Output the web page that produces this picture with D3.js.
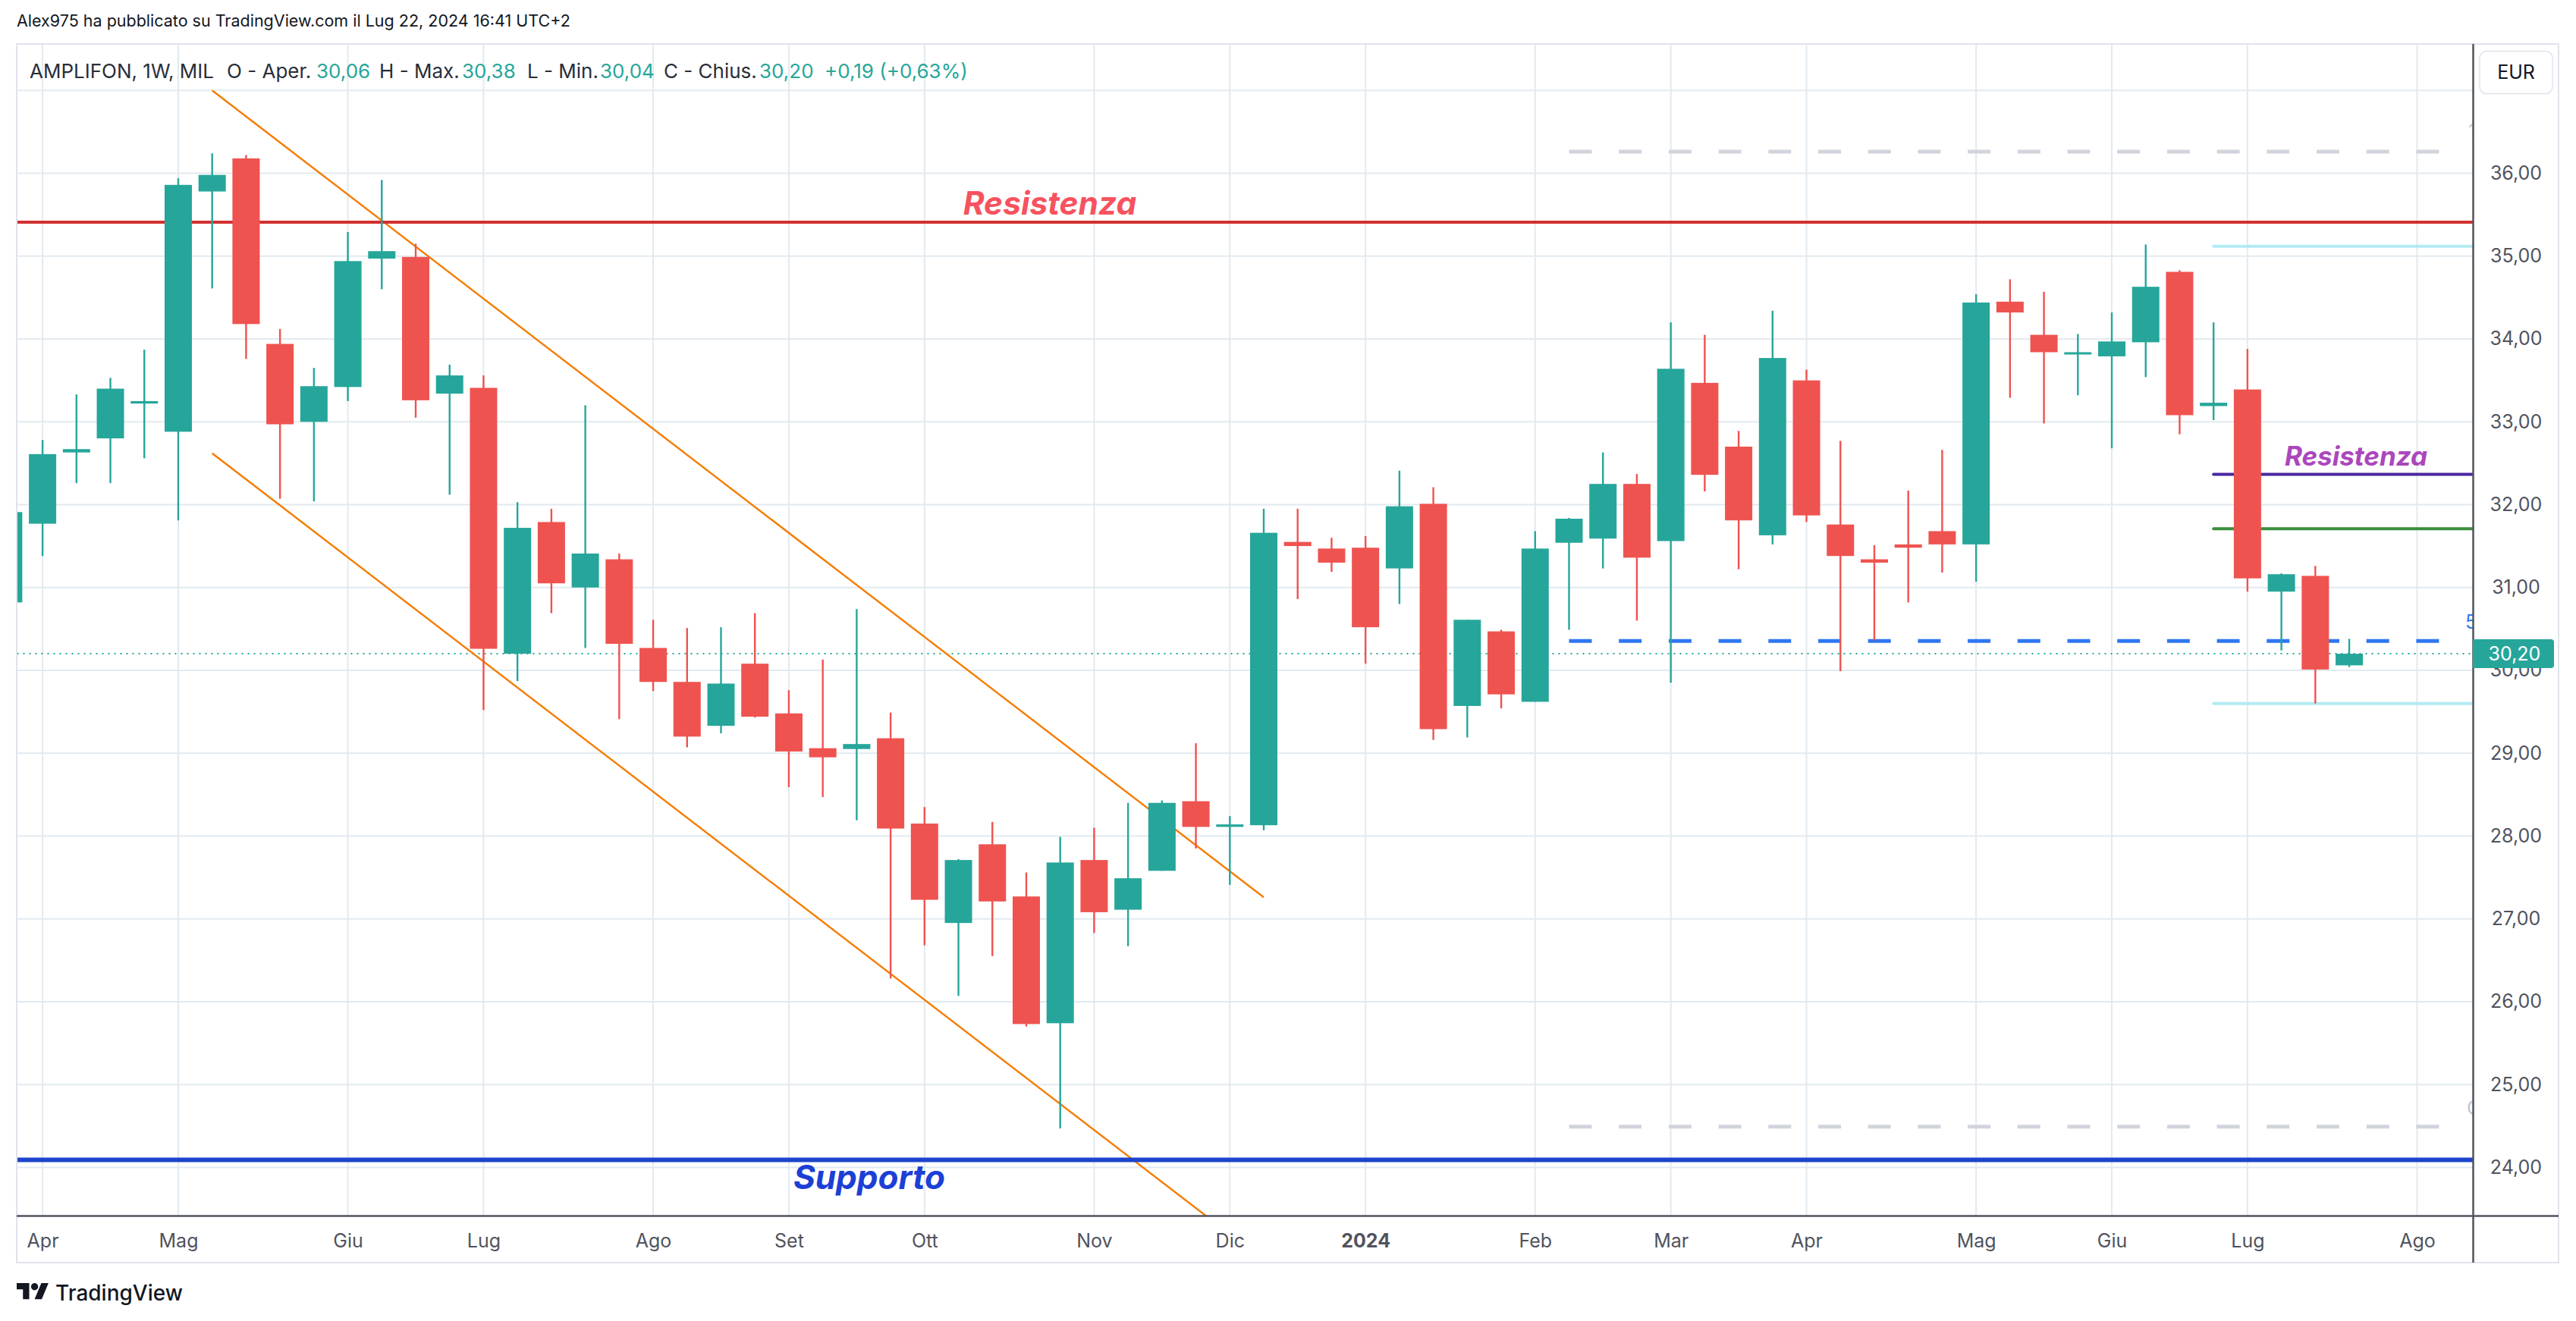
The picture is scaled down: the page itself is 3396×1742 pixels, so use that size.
<!DOCTYPE html>
<html>
<head>
<meta charset="utf-8">
<script src="https://cdn.jsdelivr.net/npm/d3@7"></script>
<style>
  html, body { margin: 0; padding: 0; background: #fff; }
  svg { display: block; font-family: Inter, "Noto Sans", sans-serif; }
</style>
</head>
<body>
<script>
const larg = 3396, alt = 1742;
const sx = 22.5, dx = 3260, top_ = 58.5, baixo = 1603.5;

// candele settimanali (lunedì) dal 27 mar 2023 al 22 lug 2024
const apertura = [30.82,31.77,32.63,32.80,33.22,32.88,35.78,36.18,33.94,33.00,33.42,34.97,34.99,33.34,33.41,30.20,31.79,31.00,31.34,30.27,
  29.86,29.33,30.08,29.48,29.06,29.05,29.18,28.15,26.95,27.90,27.27,25.74,27.71,27.11,27.58,28.42,28.11,28.13,31.55,31.47,
  31.48,31.23,32.01,29.57,30.47,29.62,31.54,31.59,32.25,31.56,33.47,32.70,31.63,33.50,31.76,31.34,31.52,31.68,31.52,34.45,
  34.05,33.82,33.79,33.96,34.81,33.19,33.39,30.95,31.14,30.06];
const massimo = [31.95,32.78,33.33,33.53,33.87,35.94,36.24,36.22,34.12,33.65,35.29,35.92,35.15,33.69,33.56,32.03,31.95,33.20,31.41,30.61,
  30.51,30.52,30.69,29.76,30.13,30.74,29.49,28.35,27.72,28.17,27.56,27.99,28.10,28.40,28.43,29.12,28.24,31.95,31.95,31.60,
  31.62,32.41,32.21,30.61,30.49,31.68,31.84,32.63,32.37,34.20,34.05,32.89,34.34,33.63,32.77,31.51,32.17,32.66,34.54,34.72,
  34.57,34.06,34.32,35.14,34.83,34.20,33.88,31.17,31.26,30.38];
const minimo = [30.70,31.38,32.26,32.26,32.56,31.81,34.61,33.76,32.07,32.04,33.25,34.60,33.05,32.12,29.52,29.87,30.69,30.27,29.41,29.75,
  29.07,29.24,29.43,28.59,28.47,28.19,26.28,26.68,26.07,26.55,25.70,24.47,26.83,26.67,27.58,27.85,27.41,28.07,30.86,31.19,
  30.08,30.80,29.16,29.19,29.54,29.62,30.49,31.23,30.60,29.85,32.16,31.22,31.52,31.79,29.99,30.36,30.82,31.18,31.07,33.29,
  32.98,33.32,32.68,33.54,32.85,33.02,30.95,30.24,29.60,30.04];
const chiusura = [31.91,32.61,32.67,33.40,33.25,35.86,35.98,34.18,32.97,33.43,34.94,35.06,33.26,33.56,30.26,31.72,31.05,31.41,30.32,29.86,
  29.20,29.84,29.44,29.02,28.95,29.11,28.09,27.23,27.71,27.21,25.73,27.68,27.08,27.49,28.40,28.11,28.14,31.66,31.50,31.30,
  30.52,31.98,29.29,30.61,29.71,31.47,31.83,32.25,31.36,33.64,32.36,31.81,33.77,31.87,31.38,31.30,31.48,31.52,34.44,34.32,
  33.84,33.84,33.97,34.63,33.08,33.23,31.11,31.16,30.01,30.20];

const meseDate = ["2023-04-03","2023-05-01","2023-06-05","2023-07-03","2023-08-07","2023-09-04","2023-10-02","2023-11-06","2023-12-04",
  "2024-01-01","2024-02-05","2024-03-04","2024-04-01","2024-05-06","2024-06-03","2024-07-01","2024-08-05"];
const meseEtichette = ["Apr","Mag","Giu","Lug","Ago","Set","Ott","Nov","Dic","2024","Feb","Mar","Apr","Mag","Giu","Lug","Ago"];
const prezzi = [24,25,26,27,28,29,30,31,32,33,34,35,36];
const griglia = [24,25,26,27,28,29,30,31,32,33,34,35,36,37];

// livelli disegnati
const resistenza = 35.41, supporto = 24.09;
const canaleAlto = [["2023-05-08", 37.00], ["2023-12-11", 27.26]];
const canaleBasso = [["2023-05-08", 32.62], ["2023-12-11", 22.88]];
const tratteggiGrigi = [36.26, 24.49];
const tratteggioBlu = 30.355;
const livelliRecenti = [
  { p: 35.12, c: "#b2ebf2", w: 4 },
  { p: 29.60, c: "#b2ebf2", w: 4 },
  { p: 32.365, c: "#4a28a0", w: 4 },
  { p: 31.71, c: "#388e3c", w: 4 }
];
const ultimo = 30.20;

const settimane = d3.utcMonday.range(new Date(Date.UTC(2023, 2, 27)), new Date(Date.UTC(2024, 6, 23)));
const dati = settimane.map((d, i) => ({ d, o: apertura[i], h: massimo[i], l: minimo[i], c: chiusura[i] }));

const data = s => new Date(s + "T00:00:00Z");
const x = d3.scaleUtc().domain([data("2023-04-03"), data("2024-07-01")]).range([56.1, 2962.9]);
const y = d3.scaleLinear().domain([24, 36]).range([1539.4, 228.5]);
const it = d3.formatLocale({ decimal: ",", thousands: ".", grouping: [3], currency: ["€", ""] }).format(".2f");

const svg = d3.select("body").append("svg").attr("width", larg).attr("height", alt);
svg.append("rect").attr("width", larg).attr("height", alt).attr("fill", "#fff");

svg.append("defs").append("clipPath").attr("id", "area")
  .append("rect").attr("x", sx).attr("y", top_).attr("width", dx - sx).attr("height", baixo - top_);

// griglia
const g = svg.append("g");
g.selectAll(".gv").data(meseDate).join("line")
  .attr("x1", d => x(data(d))).attr("x2", d => x(data(d)))
  .attr("y1", top_).attr("y2", baixo)
  .attr("stroke", "#e2eaf0").attr("stroke-width", 2);
g.selectAll(".gh").data(griglia).join("line")
  .attr("x1", sx).attr("x2", dx)
  .attr("y1", d => y(d)).attr("y2", d => y(d))
  .attr("stroke", "#e2eaf0").attr("stroke-width", 2);

const piano = svg.append("g").attr("clip-path", "url(#area)");

// linea prezzo corrente
piano.append("line").attr("x1", sx).attr("x2", dx).attr("y1", y(ultimo)).attr("y2", y(ultimo))
  .attr("stroke", "#26a69a").attr("stroke-width", 2).attr("stroke-dasharray", "2,6");

// tratteggi grigi e blu
const xInizio = x(data("2024-02-12")), xFine = x(data("2024-08-12"));
piano.selectAll(".grigio").data(tratteggiGrigi).join("line")
  .attr("x1", xInizio).attr("x2", xFine).attr("y1", d => y(d)).attr("y2", d => y(d))
  .attr("stroke", "#d1d4dc").attr("stroke-width", 5).attr("stroke-dasharray", "30,35.7");
piano.append("line")
  .attr("x1", xInizio).attr("x2", xFine).attr("y1", y(tratteggioBlu)).attr("y2", y(tratteggioBlu))
  .attr("stroke", "#2f77f2").attr("stroke-width", 5).attr("stroke-dasharray", "30,35.7");

// etichette tagliate al bordo
piano.append("text").attr("x", 3250).attr("y", y(tratteggioBlu) - 16).text("5")
  .attr("fill", "#2f77f2").attr("font-size", 25);
piano.append("text").attr("x", 3252).attr("y", y(tratteggiGrigi[1]) - 16).text("C")
  .attr("fill", "#c3c6ce").attr("font-size", 25);
piano.append("text").attr("x", 3254).attr("y", y(tratteggiGrigi[0]) - 18).text("1")
  .attr("fill", "#c3c6ce").attr("font-size", 25);

// canale
[canaleAlto, canaleBasso].forEach(l => {
  piano.append("line")
    .attr("x1", x(data(l[0][0]))).attr("y1", y(l[0][1]))
    .attr("x2", x(data(l[1][0]))).attr("y2", y(l[1][1]))
    .attr("stroke", "#f57c00").attr("stroke-width", 2.4);
});

// livelli recenti
const xRecente = x(data("2024-06-24"));
piano.selectAll(".liv").data(livelliRecenti).join("line")
  .attr("x1", xRecente).attr("x2", dx + 5).attr("y1", d => y(d.p)).attr("y2", d => y(d.p))
  .attr("stroke", d => d.c).attr("stroke-width", d => d.w).attr("stroke-linecap", "round");

// resistenza e supporto
piano.append("line").attr("x1", sx).attr("x2", dx).attr("y1", y(resistenza)).attr("y2", y(resistenza))
  .attr("stroke", "#d32f2f").attr("stroke-width", 4);
piano.append("line").attr("x1", sx).attr("x2", dx).attr("y1", y(supporto)).attr("y2", y(supporto))
  .attr("stroke", "#1c44cc").attr("stroke-width", 6);

// candele
const larghezza = 36;
const cand = piano.selectAll(".c").data(dati).join("g")
  .attr("fill", d => d.c >= d.o ? "#26a69a" : "#ef5350");
cand.append("rect")
  .attr("x", d => x(d.d) - 1.2).attr("width", 2.4)
  .attr("y", d => y(d.h)).attr("height", d => y(d.l) - y(d.h));
cand.append("rect")
  .attr("x", d => x(d.d) - larghezza / 2).attr("width", larghezza)
  .attr("y", d => y(Math.max(d.o, d.c)))
  .attr("height", d => Math.max(3, Math.abs(y(d.o) - y(d.c))));

// testi dei livelli
const etich = (t, px, py, col, fs) => svg.append("text").attr("x", px).attr("y", py).text(t)
  .attr("fill", col).attr("font-size", fs).attr("font-weight", 700).attr("font-style", "italic")
  .attr("text-anchor", "middle");
etich("Resistenza", 1384, y(resistenza) - 10, "#f7525f", 42.5);
etich("Supporto", 1146, y(supporto) + 38, "#1c3fd6", 44);
etich("Resistenza", 3106, y(livelliRecenti[2].p) - 12, "#ab47bc", 35);

// cornice e assi
svg.append("rect").attr("x", 22).attr("y", 58).attr("width", 3351).attr("height", 1607)
  .attr("fill", "none").attr("stroke", "#e0e3eb").attr("stroke-width", 2);
svg.append("line").attr("x1", dx + 0.5).attr("x2", dx + 0.5).attr("y1", 58).attr("y2", 1665)
  .attr("stroke", "#50535e").attr("stroke-width", 2.5);
svg.append("line").attr("x1", 22).attr("x2", 3373).attr("y1", baixo).attr("y2", baixo)
  .attr("stroke", "#50535e").attr("stroke-width", 2.5);

const asseX = svg.append("g").attr("transform", `translate(0,${baixo})`)
  .call(d3.axisBottom(x).tickValues(meseDate.map(data)).tickSize(0).tickPadding(24)
    .tickFormat((d, i) => meseEtichette[i]));
asseX.select(".domain").remove();
asseX.selectAll("text").attr("font-family", "Inter").attr("font-size", 25).attr("fill", "#50535e")
  .attr("font-weight", (d, i) => meseEtichette[i] === "2024" ? 700 : 400);

const asseY = svg.append("g").attr("transform", `translate(${dx},0)`)
  .call(d3.axisRight(y).tickValues(prezzi).tickSize(0).tickFormat(it));
asseY.select(".domain").remove();
asseY.selectAll("text").attr("x", 57).attr("text-anchor", "middle")
  .attr("font-family", "Inter").attr("font-size", 25).attr("fill", "#50535e");

// etichetta prezzo
svg.append("path")
  .attr("d", `M${dx},${y(ultimo) - 19} h103 a4,4 0 0 1 4,4 v30 a4,4 0 0 1 -4,4 h-103 z`)
  .attr("fill", "#26a69a");
svg.append("text").attr("x", 3315).attr("y", y(ultimo)).attr("dy", "0.35em").attr("text-anchor", "middle")
  .attr("font-size", 25).attr("fill", "#fff").text(it(ultimo));

// EUR
svg.append("rect").attr("x", 3269).attr("y", 67.5).attr("width", 96).attr("height", 56).attr("rx", 9)
  .attr("fill", "#fff").attr("stroke", "#e0e3eb").attr("stroke-width", 1.5);
svg.append("text").attr("x", 3317).attr("y", 104).attr("text-anchor", "middle")
  .attr("font-size", 25).attr("fill", "#131722").text("EUR");

// intestazione
svg.append("text").attr("x", 22).attr("y", 35).attr("font-size", 21.5).attr("fill", "#131722")
  .text("Alex975 ha pubblicato su TradingView.com il Lug 22, 2024 16:41 UTC+2");

const legenda = [
  ["AMPLIFON, 1W, MIL", 39, "#2a2e39"],
  ["O - Aper.", 299, "#2a2e39"], ["30,06", 417, "#26a69a"],
  ["H - Max.", 500, "#2a2e39"], ["30,38", 609, "#26a69a"],
  ["L - Min.", 695, "#2a2e39"], ["30,04", 791, "#26a69a"],
  ["C - Chius.", 875, "#2a2e39"], ["30,20", 1001, "#26a69a"],
  ["+0,19 (+0,63%)", 1087, "#26a69a"]
];
svg.selectAll(".leg").data(legenda).join("text")
  .attr("x", d => d[1]).attr("y", 103).attr("font-size", 26).attr("fill", d => d[2]).text(d => d[0]);

// logo
const logo = svg.append("g").attr("transform", "translate(22,1687.3) scale(1.18)").attr("fill", "#131722");
logo.append("path").attr("d", "M14 22H7V11H0V4h14v18zM28 22h-8l7.5-18h8L28 22z");
logo.append("circle").attr("cx", 20).attr("cy", 8).attr("r", 4);
svg.append("text").attr("x", 73).attr("y", 1715).attr("font-size", 28).attr("font-weight", 500)
  .attr("fill", "#131722").text("TradingView");
</script>
</body>
</html>
